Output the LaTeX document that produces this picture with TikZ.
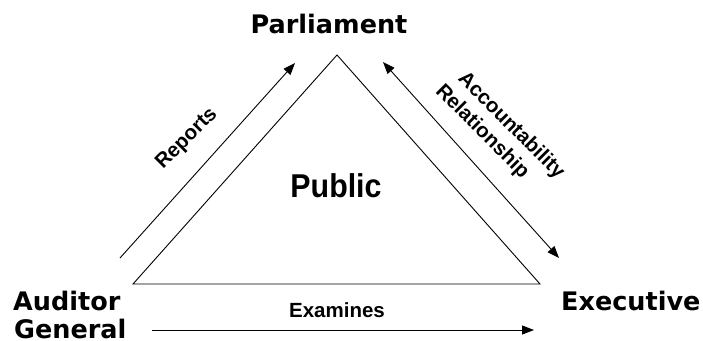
\documentclass[tikz,border=0pt]{standalone}
\usepackage{fontspec}
\setmainfont{Liberation Sans}
\newfontfamily\dvs{DejaVu Sans}
\usetikzlibrary{arrows.meta}
\tikzset{
  big/.style={font=\dvs\bfseries\fontsize{25.5}{28}\selectfont, inner sep=0pt},
  small/.style={font=\bfseries\fontsize{20.5}{23}\selectfont, inner sep=0pt},
  conn/.style={line width=0.9pt, -{Triangle[length=12pt,width=9pt]}},
  edge/.style={line width=0.9pt, line join=miter}
}
\begin{document}
\begin{tikzpicture}[x=1pt,y=-1pt]
\useasboundingbox (0,0) rectangle (703,340);
% triangle
\coordinate (top) at (337,55);
\coordinate (bl) at (133,284);
\coordinate (br) at (540,284);
\draw[edge] (top) -- (bl) -- (br) -- cycle;
% arrow end points
\coordinate (rs) at (120,258);
\coordinate (re) at (295,63);
\coordinate (as) at (383,62);
\coordinate (ae) at (559,258);
\coordinate (es) at (152,330);
\coordinate (ee) at (534,330);
\draw[conn] (rs) -- (re);
\draw[conn, {Triangle[length=12pt,width=9pt]}-{Triangle[length=12pt,width=9pt]}] (as) -- (ae);
\draw[conn] (es) -- (ee);
% labels
\node[big, anchor=base] (parl) at (329,33) {Parliament};
\node[big, anchor=base west] (aud) at (13,310) {Auditor};
\node[big, anchor=base west] (gen) at (14,338) {General};
\node[big, anchor=base west] (exe) at (561,310) {Executive};
\node[small, anchor=base] (exa) at (337,317) {Examines};
\node[font=\bfseries\fontsize{33}{36}\selectfont, inner sep=0pt, anchor=base, xscale=0.92] (pub) at (336,197) {Public};
\node[small, rotate=45] (rep) at (187,139) {Reports};
\node[small, rotate=-45] (acc) at (511,126) {Accountability};
\node[small, rotate=-45] (rel) at (482,132) {Relationship};
\end{tikzpicture}
\end{document}
